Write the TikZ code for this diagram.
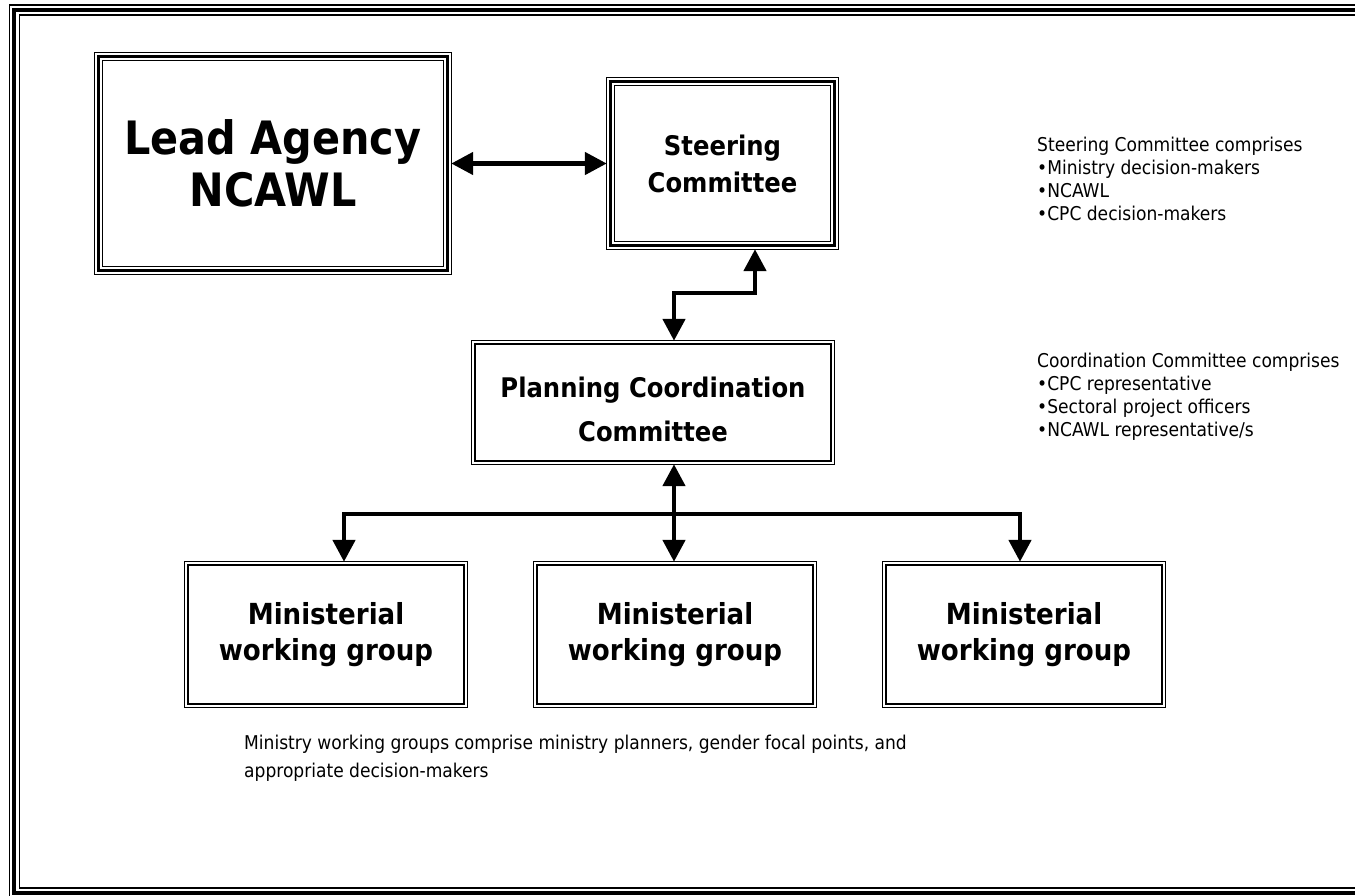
\documentclass[tikz,border=0pt]{standalone}
\usepackage{fontspec}
\setmainfont{DejaVu Sans Condensed}
\usetikzlibrary{arrows.meta}

% triple border: thin outer, thick middle, thin inner
\newcommand\triframe[1]{%
  \draw[line width=1.3pt] (#1.north west) rectangle (#1.south east);
  \draw[line width=3.2pt] ([shift={(3.8,3.8)}]#1.north west) rectangle ([shift={(-3.8,-3.8)}]#1.south east);
  \draw[line width=1.3pt] ([shift={(8,8)}]#1.north west) rectangle ([shift={(-8,-8)}]#1.south east);}
% double border: thin outer, slightly heavier inner
\newcommand\dblframe[1]{%
  \draw[line width=1pt] (#1.north west) rectangle (#1.south east);
  \draw[line width=1.8pt] ([shift={(3.5,3.5)}]#1.north west) rectangle ([shift={(-3.5,-3.5)}]#1.south east);}

\begin{document}
\begin{tikzpicture}[x=1pt,y=-1pt,
  box/.style={rectangle, draw=none, inner sep=0pt, align=center},
  conn/.style={line width=4.7pt, -{Triangle[length=22pt,width=22pt]}},
  biconn/.style={line width=4.7pt, {Triangle[length=22pt,width=22pt]}-{Triangle[length=22pt,width=22pt]}},
  note/.style={inner sep=0pt, align=left, anchor=north west}]

\useasboundingbox (0,0) rectangle (1355,895);

% page frame (runs off the right and bottom edges)
\draw[line width=1.3pt] (9.5,5) rectangle (1372,898);
\draw[line width=3.4pt] (14,9.8) rectangle (1367,893);
\draw[line width=1.5pt] (19.5,15) rectangle (1362,888);

% boxes
\node[box, minimum width=356pt, minimum height=221pt,
      font=\fontsize{46}{52}\selectfont\bfseries] (lead) at (273,163.5) {Lead Agency\\NCAWL};
\triframe{lead}
\node[box, minimum width=231pt, minimum height=171pt,
      font=\fontsize{27}{37}\selectfont\bfseries] (steer) at (722.5,163.5) {Steering\\Committee};
\triframe{steer}
\node[box, minimum width=362pt, minimum height=123pt,
      font=\fontsize{27}{44}\selectfont\bfseries] (plan) at (653,402.5)
      {\rule{0pt}{33.5pt}Planning Coordination\\Committee};
\dblframe{plan}
\foreach \n/\cx in {mw1/326, mw2/675, mw3/1024}{
  \node[box, minimum width=282pt, minimum height=145pt,
        font=\fontsize{29}{36}\selectfont\bfseries] (\n) at (\cx,634.5) {Ministerial\\working group};
  \dblframe{\n}
}

% connectors
\coordinate (sa) at (755,293);
\coordinate (sb) at (674,293);
\draw[biconn] (lead.east) -- (steer.west);
\draw[biconn] (steer.south -| sa) -- (sa) -- (sb) -- (plan.north -| sb);

\coordinate (hb) at (674,514);
\coordinate (hl) at (344,514);
\coordinate (hr) at (1020,514);
\draw[biconn] (plan.south -| hb) -- (mw2.north -| hb);
\draw[conn] (hb) -- (hl) -- (mw1.north -| hl);
\draw[conn] (hb) -- (hr) -- (mw3.north -| hr);

% notes
\node[note, font=\fontsize{19}{23}\selectfont] (stnote) at (1037,137)
  {Steering Committee comprises\\•Ministry decision-makers\\•NCAWL\\•CPC decision-makers};
\node[note, font=\fontsize{19}{23}\selectfont] (conote) at (1037,353)
  {Coordination Committee comprises\\•CPC representative\\•Sectoral project officers\\•NCAWL representative/s};
\node[note, font=\fontsize{19}{28}\selectfont] (mwnote) at (244,735)
  {Ministry working groups comprise ministry planners, gender focal points, and\\appropriate decision-makers};

\end{tikzpicture}
\end{document}
